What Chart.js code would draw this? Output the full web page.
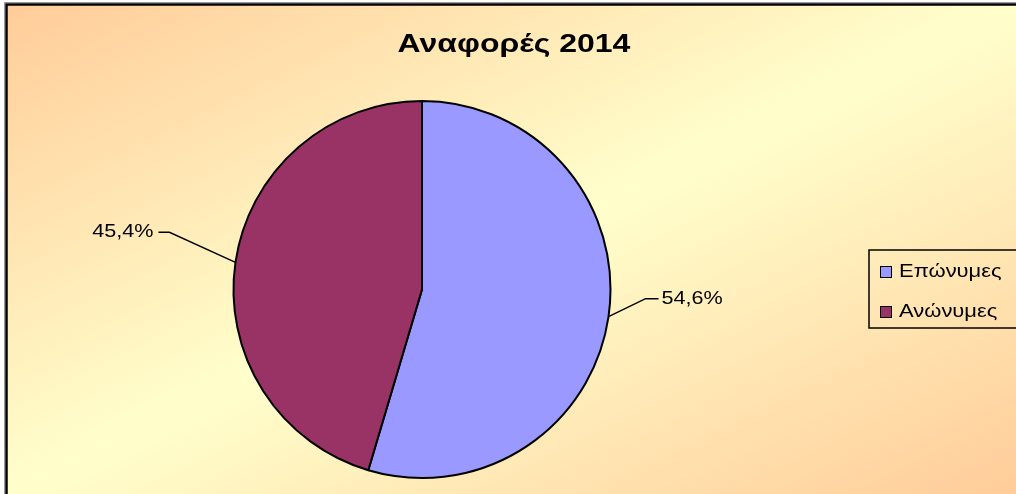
<!DOCTYPE html>
<html>
<head>
<meta charset="utf-8">
<title>Αναφορές 2014</title>
<script src="https://cdn.jsdelivr.net/npm/chart.js@4.4.1/dist/chart.umd.min.js"></script>
<style>
  html, body { margin: 0; padding: 0; background: #fff; }
  canvas { display: block; }
</style>
</head>
<body>
<canvas id="myChart" width="1016" height="494"></canvas>
<script>
/* Data */
const chartTitle = 'Αναφορές 2014';
const categories = ['Επώνυμες', 'Ανώνυμες'];
const shares = [54.6, 45.4];
const sliceColors = ['#9999FF', '#993366'];

const FONT = 'Arial, "Liberation Sans", sans-serif';

function pctLabel(value, total) {
  return (value / total * 100).toFixed(1).replace('.', ',') + '%';
}

// the original text is a bit wider than plain Arial, so stretch it sideways
function wideText(c, text, x, y, align, stretch) {
  c.save();
  c.translate(x, y);
  c.scale(stretch, 1);
  c.textAlign = align;
  c.fillText(text, 0, 0);
  c.restore();
}

/* Background, frame, title */
const backdrop = {
  id: 'backdrop',
  beforeDraw: function(chart) {
    const c = chart.ctx;
    const x0 = 6.5, y0 = 4.5, w = 1030, h = 510;
    c.save();
    c.save();
    c.translate(x0, y0);
    c.scale(1016 - x0, 494 - y0);
    const g = c.createLinearGradient(0, 0, 1, 1);
    g.addColorStop(0, '#FFCC99');
    g.addColorStop(0.5, '#FFFFCC');
    g.addColorStop(1, '#FFCC99');
    c.fillStyle = g;
    c.fillRect(0, 0, 1, 1);
    c.restore();
    c.strokeStyle = '#999';
    c.lineWidth = 1;
    c.strokeRect(x0 - 2, y0 - 2, w, h);
    c.strokeStyle = '#000';
    c.lineWidth = 2.5;
    c.strokeRect(x0, y0, w, h);

    c.fillStyle = '#000';
    c.font = 'bold 25px ' + FONT;
    c.textBaseline = 'middle';
    wideText(c, chartTitle, 514, 45, 'center', 1.28);
    c.restore();
  }
};

/* Percent labels with leader lines, and the boxed legend */
const annotate = {
  id: 'annotate',
  afterDraw: function(chart) {
    const c = chart.ctx;
    const meta = chart.getDatasetMeta(0);
    const data = chart.data.datasets[0].data;
    const total = data.reduce(function(a, b) { return a + b; }, 0);
    c.save();
    c.strokeStyle = '#000';
    c.lineWidth = 1.5;
    c.fillStyle = '#000';
    c.font = '18px ' + FONT;
    c.textBaseline = 'middle';
    meta.data.forEach(function(arc, i) {
      const p = arc.getProps(['x', 'y', 'startAngle', 'endAngle', 'outerRadius'], true);
      const mid = (p.startAngle + p.endAngle) / 2;
      const ex = p.x + Math.cos(mid) * p.outerRadius;
      const ey = p.y + Math.sin(mid) * p.outerRadius;
      const right = Math.cos(mid) >= 0;
      let bx, by, lx;
      if (right) {
        bx = ex + 37; by = ey - 18; lx = bx + 13;
      } else {
        bx = ex - 66; by = ey - 30; lx = bx - 11;
      }
      c.beginPath();
      c.moveTo(ex, ey);
      c.lineTo(bx, by);
      c.lineTo(lx, by);
      c.stroke();
      wideText(c, pctLabel(data[i], total), right ? lx + 3 : lx - 5, by,
        right ? 'left' : 'right', 1.2);
    });

    // legend (its right side runs off the picture, as in the original)
    c.lineWidth = 1.5;
    c.strokeRect(869, 250, 170, 78);
    chart.data.labels.forEach(function(label, i) {
      const y = 272 + i * 40;
      c.fillStyle = chart.data.datasets[0].backgroundColor[i];
      c.fillRect(880, y - 6, 12, 12);
      c.lineWidth = 1;
      c.strokeStyle = '#000';
      c.strokeRect(880.5, y - 5.5, 11, 11);
      c.fillStyle = '#000';
      wideText(c, label, 899, y, 'left', 1.22);
    });
    c.restore();
  }
};

let ctx = document.getElementById('myChart').getContext('2d');
// eslint-disable-next-line no-undef
let chart = new Chart(ctx, {
  type: 'pie',
  data: {
    labels: categories,
    datasets: [{
      data: shares,
      backgroundColor: sliceColors,
      borderColor: '#000',
      borderWidth: 2
    }]
  },
  options: {
    responsive: false,
    animation: false,
    layout: {
      padding: { left: 150, right: 322, top: 100, bottom: 15 }
    },
    plugins: {
      legend: { display: false },
      title: { display: false },
      tooltip: { enabled: false }
    }
  },
  plugins: [backdrop, annotate]
});
</script>
</body>
</html>
